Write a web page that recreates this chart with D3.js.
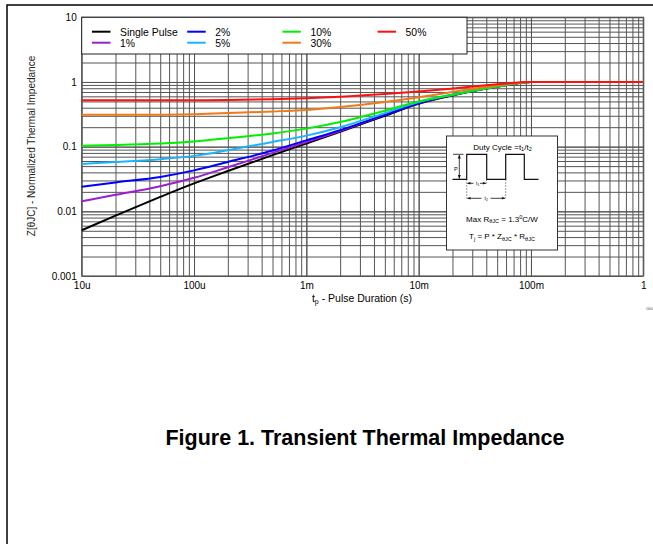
<!DOCTYPE html>
<html>
<head>
<meta charset="utf-8">
<script src="https://cdn.jsdelivr.net/npm/d3@7"></script>
<style>
  body { margin: 0; background: #fff; }
  svg text { font-family: Arial, "Liberation Sans", sans-serif; }
  .grid line { stroke: #555; stroke-width: 1; }
  .grid path { display: none; }
  .ticks path, .ticks line { display: none; }
</style>
</head>
<body>
<div id="chart"></div>
<script>
// pulse duration (s)
const pulse = [1e-5, 2e-5, 5e-5, 1e-4, 2e-4, 5e-4, 1e-3, 2e-3, 5e-3, 1e-2, 2e-2, 5e-2, 1e-1, 1];

const singlePulse = [0.0051, 0.0086, 0.0167, 0.027, 0.042, 0.074, 0.112, 0.17, 0.30, 0.46, 0.62, 0.84, 1.0, 1.0];
const duty1  = [0.0143, 0.0180, 0.0245, 0.033, 0.048, 0.080, 0.118, 0.175, 0.31, 0.47, 0.63, 0.85, 1.0, 1.0];
const duty2  = [0.024, 0.028, 0.034, 0.043, 0.058, 0.087, 0.125, 0.18, 0.31, 0.47, 0.63, 0.85, 1.0, 1.0];
const duty5  = [0.054, 0.058, 0.064, 0.072, 0.088, 0.118, 0.148, 0.20, 0.33, 0.49, 0.64, 0.85, 1.0, 1.0];
const duty10 = [0.103, 0.106, 0.112, 0.120, 0.135, 0.160, 0.190, 0.24, 0.36, 0.50, 0.63, 0.85, 1.0, 1.0];
const duty30 = [0.31, 0.31, 0.312, 0.318, 0.33, 0.35, 0.37, 0.41, 0.49, 0.58, 0.70, 0.88, 1.0, 1.0];
const duty50 = [0.52, 0.52, 0.52, 0.522, 0.528, 0.54, 0.56, 0.59, 0.65, 0.71, 0.79, 0.92, 1.0, 1.0];

const seriesNames  = ["Single Pulse", "1%", "2%", "5%", "10%", "30%", "50%"];
const seriesValues = [singlePulse, duty1, duty2, duty5, duty10, duty30, duty50];
const seriesColors = ["#000000", "#9a1fd0", "#0000ff", "#18b4ff", "#00f000", "#f07a18", "#ff1010"];

const xTicks = [1e-5, 1e-4, 1e-3, 1e-2, 1e-1, 1];
const xTickLabels = ["10u", "100u", "1m", "10m", "100m", "1"];
const yTicks = [0.001, 0.01, 0.1, 1, 10];
const yTickLabels = ["0.001", "0.01", "0.1", "1", "10"];

const W = 653, H = 544;
const pLeft = 81.7, pRight = 643.3, pTop = 17.3, pBottom = 276;
const width = pRight - pLeft, height = pBottom - pTop;

const svg = d3.select("#chart").append("svg")
    .attr("width", W).attr("height", H);

// page frame
svg.append("path")
    .attr("d", `M7,${H} L7,5 L${W},5`)
    .attr("fill", "none").attr("stroke", "#000").attr("stroke-width", 1.5);

const chart = svg.append("g").attr("transform", `translate(${pLeft},${pTop})`);

const x = d3.scaleLog().domain([1e-5, 1]).range([0, width]);
const y = d3.scaleLog().domain([0.001, 10]).range([height, 0]);

// minor grid values
const minors = (lo, hi) => {
    const out = [];
    for (let d = lo; d < hi; d *= 10) for (let k = 1; k <= 10; k++) out.push(d * k);
    return out;
};

chart.append("g").attr("class", "grid")
    .attr("transform", `translate(0,${height})`)
    .call(d3.axisBottom(x).tickValues(minors(1e-5, 1)).tickSize(-height).tickFormat(""));
chart.append("g").attr("class", "grid")
    .call(d3.axisLeft(y).tickValues(minors(0.001, 10)).tickSize(-width).tickFormat(""));

chart.append("rect")
    .attr("width", width).attr("height", height)
    .attr("fill", "none").attr("stroke", "#555").attr("stroke-width", 1.2);

// curves
const line = d3.line()
    .x(d => x(d[0]))
    .y(d => y(d[1]))
    .curve(d3.curveMonotoneX);

seriesValues.forEach((vals, i) => {
    chart.append("path")
        .datum(pulse.map((t, j) => [t, vals[j]]))
        .attr("fill", "none")
        .attr("stroke", seriesColors[i])
        .attr("stroke-width", 2)
        .attr("d", line);
});

// tick labels
chart.append("g").attr("class", "ticks")
    .attr("transform", `translate(0,${height})`)
    .call(d3.axisBottom(x).tickValues(xTicks).tickSize(0).tickPadding(6)
        .tickFormat((d, i) => xTickLabels[i]))
    .selectAll("text").attr("font-size", "10px").attr("fill", "#000")
    .attr("font-family", "Arial, 'Liberation Sans', sans-serif");

chart.append("g").attr("class", "ticks")
    .call(d3.axisLeft(y).tickValues(yTicks).tickSize(0).tickPadding(5)
        .tickFormat((d, i) => yTickLabels[i]))
    .selectAll("text").attr("font-size", "10px").attr("fill", "#000")
    .attr("font-family", "Arial, 'Liberation Sans', sans-serif");

// axis titles
const xt = svg.append("text")
    .attr("x", pLeft + width / 2 - 0.5).attr("y", 302)
    .attr("text-anchor", "middle").attr("font-size", "10.5px");
xt.append("tspan").text("t");
xt.append("tspan").text("p").attr("font-size", "7px").attr("dy", 2);
xt.append("tspan").text(" - Pulse Duration (s)").attr("dy", -2);

svg.append("text")
    .attr("transform", `translate(34.5,${146}) rotate(-90)`)
    .attr("text-anchor", "middle").attr("font-size", "10px")
    .attr("fill", "#222")
    .text("Z[θJC] - Normalized Thermal Impedance");

// legend
const legend = chart.append("g");
legend.append("rect")
    .attr("x", 0).attr("y", 0).attr("width", 467 - pLeft).attr("height", 54 - pTop)
    .attr("fill", "#fff").attr("stroke", "#222").attr("stroke-width", 1);

seriesNames.forEach((name, i) => {
    const col = Math.floor(i / 2), row = i % 2;
    const lx = 10.3 + col * 95.2, ly = 14.4 + row * 11;
    legend.append("line")
        .attr("x1", lx).attr("x2", lx + 18.5).attr("y1", ly).attr("y2", ly)
        .attr("stroke", seriesColors[i]).attr("stroke-width", 2);
    legend.append("text")
        .attr("x", lx + 28).attr("y", ly + 4)
        .attr("font-size", "10.4px").text(name);
});

// inset box
const inset = svg.append("g").attr("transform", "translate(446.5,136)");
inset.append("rect")
    .attr("width", 111).attr("height", 114)
    .attr("fill", "#fff").attr("stroke", "#333").attr("stroke-width", 1);

const dc = inset.append("text").attr("x", 56).attr("y", 13.5)
    .attr("text-anchor", "middle").attr("font-size", "8px");
dc.append("tspan").text("Duty Cycle =t");
dc.append("tspan").text("1").attr("font-size", "5.5px").attr("dy", 1.5);
dc.append("tspan").text("/t").attr("dy", -1.5);
dc.append("tspan").text("2").attr("font-size", "5.5px").attr("dy", 1.5);

inset.append("path")
    .attr("d", "M6,43.3 L20.2,43.3 L20.2,18.3 L40.2,18.3 L40.2,43.3 L59.2,43.3 L59.2,18.3 L77.8,18.3 L77.8,43.3 L92,43.3")
    .attr("fill", "none").attr("stroke", "#111").attr("stroke-width", 1.2);

// P arrow
inset.append("path").attr("d", "M6.5,18.3 L17,18.3 M12.8,19 L12.8,42.6")
    .attr("stroke", "#111").attr("stroke-width", 0.8).attr("fill", "none");
inset.append("path").attr("d", "M12.8,18.8 L11.3,22.5 L14.3,22.5 Z M12.8,42.8 L11.3,39.1 L14.3,39.1 Z")
    .attr("fill", "#111");
inset.append("text").attr("x", 7.5).attr("y", 35).attr("font-size", "5.5px").text("P");

// dashed guides
inset.append("path").attr("d", "M20.2,43.3 L20.2,62.5 M40.2,43.3 L40.2,47.5 M59.2,43.3 L59.2,62.5")
    .attr("stroke", "#444").attr("stroke-width", 0.7).attr("stroke-dasharray", "1.5,1.5");

// t1 / t2 arrows
inset.append("path").attr("d", "M21,47.3 L27,47.3 M33.5,47.3 L39.4,47.3 M21,62.3 L35,62.3 M44,62.3 L58.4,62.3")
    .attr("stroke", "#111").attr("stroke-width", 0.8);
inset.append("path").attr("d", "M20.6,47.3 L24,46 L24,48.6 Z M39.8,47.3 L36.4,46 L36.4,48.6 Z M20.6,62.3 L24,61 L24,63.6 Z M58.8,62.3 L55.4,61 L55.4,63.6 Z")
    .attr("fill", "#111");
const t1 = inset.append("text").attr("x", 29.5).attr("y", 49).attr("font-size", "5px");
t1.append("tspan").text("t");
t1.append("tspan").text("1").attr("font-size", "3.5px").attr("dy", 0.8);
const t2 = inset.append("text").attr("x", 38).attr("y", 64).attr("font-size", "5px");
t2.append("tspan").text("t");
t2.append("tspan").text("2").attr("font-size", "3.5px").attr("dy", 0.8);

const mx = inset.append("text").attr("x", 55.5).attr("y", 85.5)
    .attr("text-anchor", "middle").attr("font-size", "8px");
mx.append("tspan").text("Max R");
mx.append("tspan").text("θJC").attr("font-size", "5.5px").attr("dy", 1.5);
mx.append("tspan").text(" = 1.3").attr("dy", -1.5);
mx.append("tspan").text("0").attr("font-size", "5.5px").attr("dy", -2.5);
mx.append("tspan").text("C/W").attr("dy", 2.5);

const tj = inset.append("text").attr("x", 55.5).attr("y", 103)
    .attr("text-anchor", "middle").attr("font-size", "8px");
tj.append("tspan").text("T");
tj.append("tspan").text("j").attr("font-size", "5.5px").attr("dy", 1.5);
tj.append("tspan").text(" = P * Z").attr("dy", -1.5);
tj.append("tspan").text("θJC").attr("font-size", "5.5px").attr("dy", 1.5);
tj.append("tspan").text("  * R").attr("dy", -1.5);
tj.append("tspan").text("θJC").attr("font-size", "5.5px").attr("dy", 1.5);

// tiny drawing id
svg.append("text").attr("x", 646).attr("y", 310)
    .attr("font-size", "4px").attr("fill", "#555").text("G00");

// figure caption
svg.append("text")
    .attr("x", 365).attr("y", 445)
    .attr("text-anchor", "middle")
    .attr("font-size", "21.5px").attr("font-weight", "bold")
    .text("Figure 1. Transient Thermal Impedance");
</script>
</body>
</html>
